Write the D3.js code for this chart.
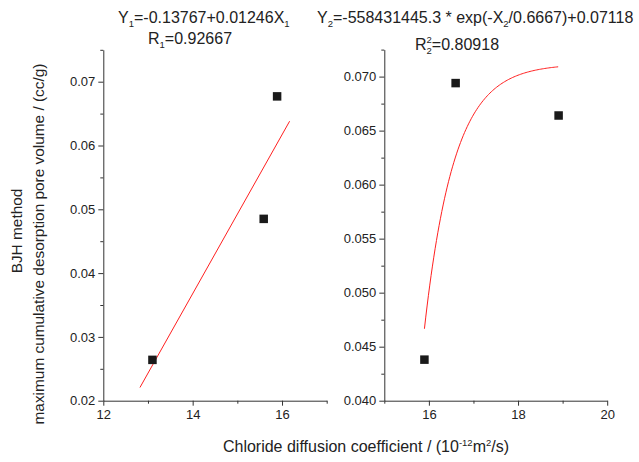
<!DOCTYPE html>
<html><head><meta charset="utf-8">
<script src="https://cdn.jsdelivr.net/npm/d3@7"></script>
<style>
html,body{margin:0;padding:0;background:#fff;}
svg{display:block;font-family:"Liberation Sans",Arial,sans-serif;}
</style></head>
<body>
<svg id="c" width="639" height="462"></svg>
<script>
// ---- data ----
const leftX = [13.1, 15.59, 15.89];
const leftY = [0.0264, 0.0485, 0.0677];
const rightX = [15.9, 16.6, 18.91];
const rightY = [0.0438, 0.0694, 0.0664];
// fit parameters (from equations shown)
const linIntercept = -0.13767, linSlope = 0.01246;
const linRange = [12.82, 16.17];
const expA = -558431445.3, expT = 0.6667, expY0 = 0.07118;
const expRange = [15.9, 18.9];
const leftXTicks = [12, 14, 16], leftXMinor = [13, 15, 17];
const leftYTicks = [0.02, 0.03, 0.04, 0.05, 0.06, 0.07];
const leftYMinor = [0.025, 0.035, 0.045, 0.055, 0.065, 0.075];
const rightXTicks = [16, 18, 20], rightXMinor = [15, 17, 19];
const rightYTicks = [0.040, 0.045, 0.050, 0.055, 0.060, 0.065, 0.070];
const rightYMinor = [0.0425, 0.0475, 0.0525, 0.0575, 0.0625, 0.0675, 0.0725];

const svg = d3.select("#c");
const axisCol = "#333";

function panel(xDom, xRng, yDom, yRng, xT, xM, yT, yM, yFmt) {
  const x = d3.scaleLinear(xDom, xRng);
  const y = d3.scaleLinear(yDom, yRng);
  const gx = svg.append("g").attr("transform", `translate(0,${yRng[0]})`);
  gx.call(d3.axisBottom(x).tickValues(xM).tickSize(3).tickFormat(""));
  gx.call(g => g.select(".domain").remove());
  svg.append("g").attr("transform", `translate(0,${yRng[0]})`)
    .call(d3.axisBottom(x).tickValues(xT).tickSize(5).tickSizeOuter(0).tickPadding(4).tickFormat(d3.format("d")));
  const gy = svg.append("g").attr("transform", `translate(${xRng[0]},0)`);
  gy.call(d3.axisLeft(y).tickValues(yM).tickSize(3).tickFormat(""));
  gy.call(g => g.select(".domain").remove());
  svg.append("g").attr("transform", `translate(${xRng[0]},0)`)
    .call(d3.axisLeft(y).tickValues(yT).tickSize(5).tickSizeOuter(0).tickPadding(3).tickFormat(d3.format(yFmt)));
  svg.selectAll(".tick line,.domain").attr("stroke", axisCol).attr("stroke-width", 1);
  svg.selectAll(".tick text").attr("font-size", 13).attr("fill", "#222")
    .attr("font-family", "Liberation Sans, Arial, sans-serif");
  return {x, y};
}

const L = panel([12, 17], [103.3, 326.7], [0.02, 0.075], [400.7, 49.8],
  leftXTicks, leftXMinor, leftYTicks, leftYMinor, ".2f");
const R = panel([15, 20], [384.3, 607.2], [0.04, 0.0725], [400.7, 49.6],
  rightXTicks, rightXMinor, rightYTicks, rightYMinor, ".3f");

// fit lines
const linPts = linRange.map(v => [v, linIntercept + linSlope * v]);
svg.append("path").attr("fill", "none").attr("stroke", "#ff2020").attr("stroke-width", 1)
  .attr("d", d3.line().x(d => L.x(d[0])).y(d => L.y(d[1]))(linPts));
const expPts = d3.range(0, 101).map(i => {
  const v = expRange[0] + (expRange[1] - expRange[0]) * i / 100;
  return [v, expA * Math.exp(-v / expT) + expY0];
});
svg.append("path").attr("fill", "none").attr("stroke", "#ff2020").attr("stroke-width", 1)
  .attr("d", d3.line().x(d => R.x(d[0])).y(d => R.y(d[1]))(expPts));

// markers
const sq = 8.5;
svg.append("g").selectAll("rect").data(leftX.map((v, i) => [v, leftY[i]])).join("rect")
  .attr("x", d => L.x(d[0]) - sq / 2).attr("y", d => L.y(d[1]) - sq / 2)
  .attr("width", sq).attr("height", sq).attr("fill", "#1a1a1a");
svg.append("g").selectAll("rect").data(rightX.map((v, i) => [v, rightY[i]])).join("rect")
  .attr("x", d => R.x(d[0]) - sq / 2).attr("y", d => R.y(d[1]) - sq / 2)
  .attr("width", sq).attr("height", sq).attr("fill", "#1a1a1a");

// titles
const tfs = 16, sfs = 9.5;
let t1 = svg.append("text").attr("x", 118).attr("y", 23).attr("font-size", tfs).attr("fill", "#222");
t1.append("tspan").text("Y"); t1.append("tspan").attr("font-size", sfs).attr("dy", 4).text("1");
t1.append("tspan").attr("dy", -4).text("=-0.13767+0.01246X"); t1.append("tspan").attr("font-size", sfs).attr("dy", 4).text("1");

let t2 = svg.append("text").attr("x", 148).attr("y", 44).attr("font-size", tfs).attr("fill", "#222");
t2.append("tspan").text("R"); t2.append("tspan").attr("font-size", sfs).attr("dy", 4).text("1");
t2.append("tspan").attr("dy", -4).text("=0.92667");

let t3 = svg.append("text").attr("x", 317).attr("y", 23).attr("font-size", tfs).attr("fill", "#222");
t3.append("tspan").text("Y"); t3.append("tspan").attr("font-size", sfs).attr("dy", 4).text("2");
t3.append("tspan").attr("dy", -4).text("=-558431445.3 * exp(-X"); t3.append("tspan").attr("font-size", sfs).attr("dy", 4).text("2");
t3.append("tspan").attr("dy", -4).text("/0.6667)+0.07118");

let t4 = svg.append("text").attr("x", 415).attr("y", 50).attr("font-size", tfs).attr("fill", "#222");
t4.append("tspan").text("R");
t4.append("tspan").attr("font-size", sfs).attr("dy", -7).text("2");
t4.append("tspan").attr("font-size", sfs).attr("dx", -5.3).attr("dy", 11).text("2");
t4.append("tspan").attr("dy", -4).text("=0.80918");

// axis titles
const xt = svg.append("text").attr("x", 366).attr("y", 452).attr("text-anchor", "middle")
  .attr("font-size", 16).attr("fill", "#222");
xt.append("tspan").text("Chloride diffusion coefficient / (10");
xt.append("tspan").attr("font-size", sfs).attr("dy", -6).text("-12");
xt.append("tspan").attr("dy", 6).text("m");
xt.append("tspan").attr("font-size", sfs).attr("dy", -6).text("2");
xt.append("tspan").attr("dy", 6).text("/s)");

const yl = svg.append("g").attr("transform", "translate(0,244) rotate(-90)");
yl.append("text").attr("x", 13).attr("y", 22).attr("text-anchor", "middle").attr("font-size", 15.4)
  .attr("fill", "#222").text("BJH method");
yl.append("text").attr("x", 0).attr("y", 44).attr("text-anchor", "middle").attr("font-size", 15.4)
  .attr("fill", "#222").text("maximum cumulative desorption pore volume / (cc/g)");
</script>
</body></html>
